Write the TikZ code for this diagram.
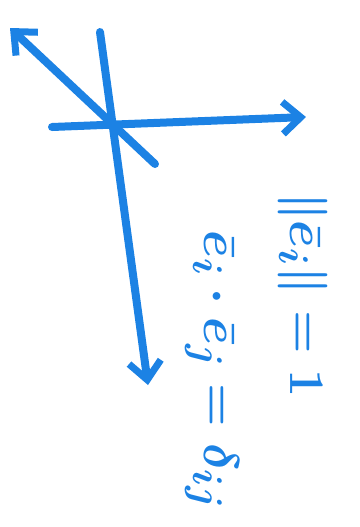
\documentclass[tikz,border=0pt]{standalone}
\usetikzlibrary{arrows.meta}
\definecolor{ink}{RGB}{28,130,228}
\begin{document}
\begin{tikzpicture}[x=0.5pt,y=-0.5pt,
  stroke/.style={draw=ink,line width=4pt,line cap=round,line join=round},
  vecarrow/.style={stroke,-{Straight Barb[length=9pt,width=16pt,line width=3.5pt]}},
  label/.style={text=ink,font=\fontsize{30}{34}\selectfont\boldmath,rotate=-90,inner sep=0pt}]
\useasboundingbox (0,0) rectangle (360,527);
\coordinate (o) at (110,123);
\coordinate (hs) at (52,127);
\coordinate (he) at (306,117);
\coordinate (vs) at (100,32);
\coordinate (ve) at (148,385);
\coordinate (ds) at (155,164);
\coordinate (de) at (10,28);
\draw[vecarrow] (hs) -- (he);
\draw[vecarrow] (vs) -- (ve);
\draw[vecarrow] (ds) -- (de);
\node[label] (norm) at (303,295) {$\|\bar{e}_i\|=1$};
\node[label] (ortho) at (212,370) {$\bar{e}_i\cdot\bar{e}_j=\delta_{ij}$};
\end{tikzpicture}
\end{document}
